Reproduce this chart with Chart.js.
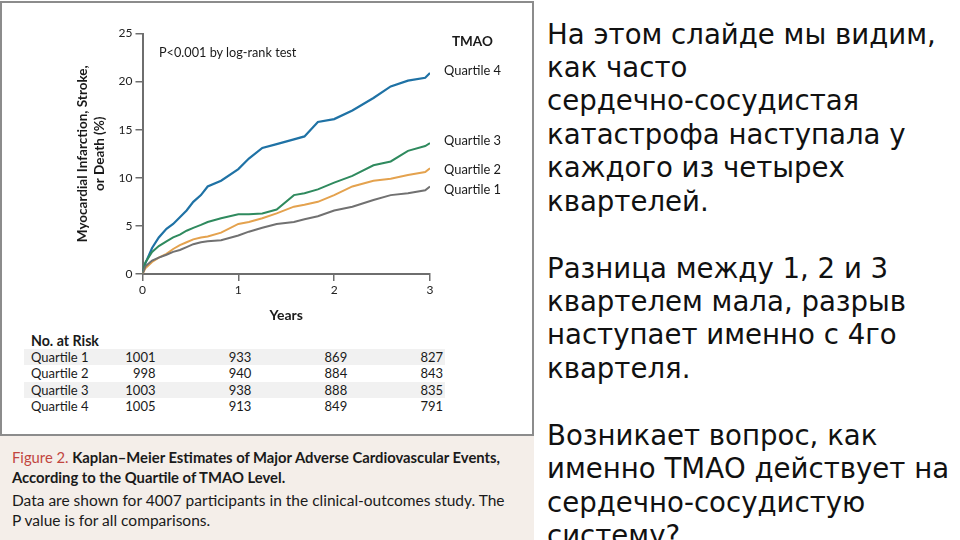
<!DOCTYPE html>
<html>
<head>
<meta charset="utf-8">
<script src="https://cdn.jsdelivr.net/npm/chart.js@4.4.0/dist/chart.umd.min.js"></script>
<style>
  body { margin: 0; width: 960px; height: 540px; overflow: hidden; background: #fff; position: relative; font-family: Lato, sans-serif; }
  #fig { position: absolute; left: 0; top: 1px; width: 530px; height: 545px; border: 2px solid #8c8c8c; background: #fff; }
  #caption { position: absolute; left: 0; top: 434px; width: 534px; height: 110px; background: #f4eee9; border-top: 2px solid #8c8c8c; }
  #chart { position: absolute; left: 0; top: 0; }
  .t { position: absolute; white-space: nowrap; color: #1a1a1a; }
  .band { position: absolute; left: 24px; width: 421px; height: 16px; background: #f1f1f1; }
  #text { position: absolute; left: 547px; top: 17.5px; font-family: "DejaVu Sans", sans-serif; font-size: 27.6px; line-height: 33.45px; color: #111; }
  #text div { height: 33.45px; white-space: nowrap; }
</style>
</head>
<body>
<div id="fig"></div>
<div id="caption"></div>
<canvas id="chart" width="540" height="330"></canvas>

<div class="t" style="left:159px; top:45px; font-size:12.7px; line-height:15px;">P&lt;0.001 by log-rank test</div>
<div class="t" style="left:452px; top:34px; font-size:13.5px; line-height:15px; font-weight:bold;">TMAO</div>
<div class="t" style="left:444px; top:63px; font-size:12.9px; line-height:15px;">Quartile 4</div>
<div class="t" style="left:444px; top:133px; font-size:12.9px; line-height:15px;">Quartile 3</div>
<div class="t" style="left:444px; top:162px; font-size:12.9px; line-height:15px;">Quartile 2</div>
<div class="t" style="left:444px; top:182px; font-size:12.9px; line-height:15px;">Quartile 1</div>

<div class="band" style="top:349px;"></div>
<div class="band" style="top:382px;"></div>
<div class="t" style="left:31px; top:332px; font-size:14.2px; line-height:17px; font-weight:bold;">No. at Risk</div>
<div id="risk"></div>

<div class="t" style="left:12px; top:447px; font-size:14.8px; line-height:20px; font-weight:bold;"><span style="color:#c2463f; font-weight:normal;">Figure 2.</span> Kaplan–Meier Estimates of Major Adverse Cardiovascular Events,</div>
<div class="t" style="left:12px; top:467px; font-size:14.8px; line-height:20px; font-weight:bold;">According to the Quartile of TMAO Level.</div>
<div class="t" style="left:12px; top:490px; font-size:15.5px; line-height:20px;">Data are shown for 4007 participants in the clinical-outcomes study. The</div>
<div class="t" style="left:12px; top:510px; font-size:15.5px; line-height:20px;">P value is for all comparisons.</div>

<div id="text">
  <div>На этом слайде мы видим,</div>
  <div>как часто</div>
  <div>сердечно-сосудистая</div>
  <div>катастрофа наступала у</div>
  <div>каждого из четырех</div>
  <div>квартелей.</div>
  <div></div>
  <div>Разница между 1, 2 и 3</div>
  <div>квартелем мала, разрыв</div>
  <div>наступает именно с 4го</div>
  <div>квартеля.</div>
  <div></div>
  <div>Возникает вопрос, как</div>
  <div>именно ТМАО действует на</div>
  <div>сердечно-сосудистую</div>
  <div>систему?</div>
</div>

<script>
// follow-up time (years) and cumulative event rate (%) per TMAO quartile
const years     = [0, 0.03, 0.1, 0.17, 0.25, 0.32, 0.39, 0.46, 0.53, 0.61, 0.68, 0.82, 1.0, 1.11, 1.25, 1.4, 1.58, 1.69, 1.83, 2.0, 2.19, 2.41, 2.59, 2.77, 2.95, 3.0];
const quartile1 = [0, 0.8, 1.4, 1.7, 2.0, 2.3, 2.5, 2.8, 3.1, 3.3, 3.4, 3.5, 4.0, 4.4, 4.8, 5.2, 5.4, 5.7, 6.0, 6.6, 7.0, 7.7, 8.2, 8.4, 8.7, 9.1];
const quartile2 = [0, 0.6, 1.25, 1.7, 2.1, 2.6, 3.0, 3.3, 3.6, 3.8, 3.9, 4.3, 5.2, 5.4, 5.8, 6.3, 7.0, 7.2, 7.5, 8.2, 9.1, 9.7, 9.9, 10.3, 10.6, 11.0];
const quartile3 = [0, 1.2, 2.3, 2.9, 3.4, 3.8, 4.1, 4.5, 4.8, 5.1, 5.4, 5.8, 6.2, 6.2, 6.3, 6.7, 8.2, 8.4, 8.8, 9.5, 10.2, 11.3, 11.7, 12.8, 13.3, 13.6];
const quartile4 = [0, 1.1, 2.7, 3.8, 4.7, 5.2, 5.9, 6.6, 7.5, 8.2, 9.1, 9.7, 10.9, 12.0, 13.1, 13.5, 14.0, 14.3, 15.8, 16.1, 17.0, 18.3, 19.5, 20.1, 20.4, 20.9];

// number at risk
const riskYears  = [0, 1, 2, 3];
const riskLabels = ['Quartile 1', 'Quartile 2', 'Quartile 3', 'Quartile 4'];
const riskQ1 = [1001, 933, 869, 827];
const riskQ2 = [998, 940, 884, 843];
const riskQ3 = [1003, 938, 888, 835];
const riskQ4 = [1005, 913, 849, 791];

function pts(vals) {
  return years.map((t, i) => ({ x: t, y: vals[i] }));
}

const axisColor = '#6e6e6e';

const chart = new Chart(document.getElementById('chart'), {
  type: 'line',
  data: {
    datasets: [
      { label: 'Quartile 1', data: pts(quartile1), borderColor: '#717171', borderWidth: 2 },
      { label: 'Quartile 2', data: pts(quartile2), borderColor: '#e4a24e', borderWidth: 2 },
      { label: 'Quartile 3', data: pts(quartile3), borderColor: '#2f8a5e', borderWidth: 2 },
      { label: 'Quartile 4', data: pts(quartile4), borderColor: '#1f72a5', borderWidth: 2.2 }
    ]
  },
  options: {
    responsive: false,
    animation: false,
    layout: { padding: { left: 42.5, right: 110, top: 33.5, bottom: 6 } },
    elements: { point: { radius: 0 }, line: { tension: 0 } },
    plugins: { legend: { display: false }, tooltip: { enabled: false } },
    scales: {
      x: {
        type: 'linear', min: 0, max: 3,
        ticks: { stepSize: 1, color: '#222', padding: 2, font: { family: 'Lato', size: 12 } },
        grid: { drawOnChartArea: false, tickLength: 7, color: axisColor, lineWidth: 1.5 },
        border: { color: axisColor, width: 2 },
        title: { display: true, text: 'Years', color: '#1a1a1a', padding: { top: 0, bottom: 0 },
                 font: { family: 'Lato', size: 14, weight: 'bold', lineHeight: 1.2 } },
        afterFit: s => { s.height = 50; }
      },
      y: {
        min: 0, max: 25,
        ticks: { stepSize: 5, color: '#222', padding: 3, font: { family: 'Lato', size: 12 } },
        grid: { drawOnChartArea: false, tickLength: 7, color: axisColor, lineWidth: 1.5 },
        border: { color: axisColor, width: 2 },
        title: { display: true, text: ['Myocardial Infarction, Stroke,', 'or Death (%)'], color: '#1a1a1a',
                 padding: { top: 32, bottom: 0 },
                 font: { family: 'Lato', size: 13.5, weight: 'bold', lineHeight: 1.25 } },
        afterFit: s => { s.width = 100; }
      }
    }
  }
});

// number-at-risk table, columns aligned under the x ticks
const riskRows = [riskQ1, riskQ2, riskQ3, riskQ4];
const rowTops = [349, 365, 382, 398];
const risk = document.getElementById('risk');
riskRows.forEach((row, r) => {
  let lab = document.createElement('div');
  lab.className = 't';
  lab.style.cssText = `left:31px; top:${rowTops[r]}px; font-size:13px; line-height:16px;`;
  lab.textContent = riskLabels[r];
  risk.appendChild(lab);
  row.forEach((n, c) => {
    const xr = chart.scales.x.getPixelForValue(riskYears[c]) + 13;
    let d = document.createElement('div');
    d.className = 't';
    d.style.cssText = `right:${960 - xr}px; top:${rowTops[r]}px; font-size:13px; line-height:16px;`;
    d.textContent = n;
    risk.appendChild(d);
  });
});
</script>
</body>
</html>
